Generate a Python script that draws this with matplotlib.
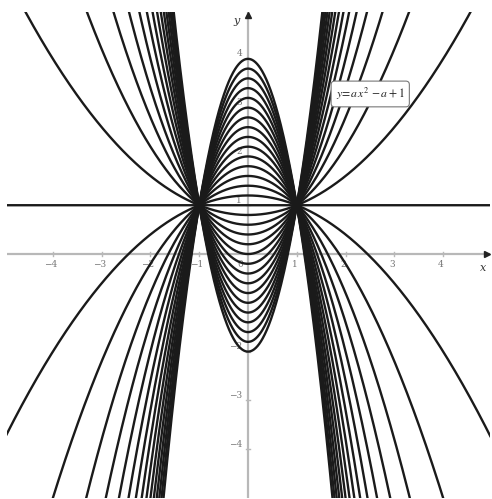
import matplotlib.pyplot as plt
import numpy as np

# parameter values for the family y = a*x^2 - a + 1
a_values = [-3.0, -2.8, -2.6, -2.4, -2.2, -2.0, -1.8, -1.6, -1.4, -1.2, -1.0,
            -0.8, -0.6, -0.4, -0.2, 0.0, 0.2, 0.4, 0.6, 0.8, 1.0, 1.2, 1.4,
            1.6, 1.8, 2.0, 2.2, 2.4, 2.6, 2.8, 3.0]
x_ticks = [-4, -3, -2, -1, 1, 2, 3, 4]
y_ticks = [-4, -3, -2, 1, 2, 3, 4]

W, H = 492, 499
fig = plt.figure(figsize=(W / 100, H / 100), dpi=100)
# graphics view occupies pixels 7..490 horizontally and 12..498 vertically
ax = fig.add_axes([7 / W, 1 - 498 / H, (490 - 7) / W, (498 - 12) / H])
ax.set_xlim(-4.94, 4.96)
ax.set_ylim(-5.0, 4.96)
ax.axis('off')

plt.rcParams['mathtext.fontset'] = 'stix'
axis_col = '#b8b8b8'
lab_col = '#777777'

# axes
ax.axhline(0, color=axis_col, lw=1.6, zorder=1)
ax.axvline(0, color=axis_col, lw=1.6, zorder=1)
ax.plot([4.89], [0], marker='>', color='#222222', ms=5, clip_on=False, zorder=5)
ax.plot([0], [4.9], marker='^', color='#222222', ms=5, clip_on=False, zorder=5)
ax.text(4.82, -0.18, 'x', fontsize=8, style='italic', family='DejaVu Serif',
        ha='center', va='top', color='#333333')
ax.text(-0.18, 4.78, 'y', fontsize=8, style='italic', family='DejaVu Serif',
        ha='right', va='center', color='#333333')

# ticks and labels
for t in x_ticks:
    ax.plot([t, t], [-0.05, 0.05], color=axis_col, lw=1, zorder=1)
    ax.text(t - 0.05, -0.13, str(t).replace('-', '\u2212'), fontsize=6.5,
            family='DejaVu Serif', ha='center', va='top', color=lab_col, zorder=1)
ax.text(-0.1, -0.13, '0', fontsize=6.5, family='DejaVu Serif',
        ha='right', va='top', color=lab_col, zorder=1)
for t in y_ticks:
    ax.plot([-0.05, 0.05], [t, t], color=axis_col, lw=1, zorder=1)
    ax.text(-0.12, t + 0.1, str(t).replace('-', '\u2212'), fontsize=6.5,
            family='DejaVu Serif', ha='right', va='center', color=lab_col, zorder=1)

# the curves
x = np.linspace(-5.2, 5.2, 1200)
for a in a_values:
    ax.plot(x, a * x ** 2 - a + 1, color='#1a1a1a', lw=1.7, zorder=3)

ax.text(1.8, 3.28, r'$y\!=\!a\,x^2\,-a+1$', fontsize=8.5, ha='left', va='center',
        color='#222222', zorder=6,
        bbox=dict(boxstyle='round,pad=0.4,rounding_size=0.3', fc='white',
                  ec='#777777', lw=0.8))

fig.savefig('out.png', dpi=100)
